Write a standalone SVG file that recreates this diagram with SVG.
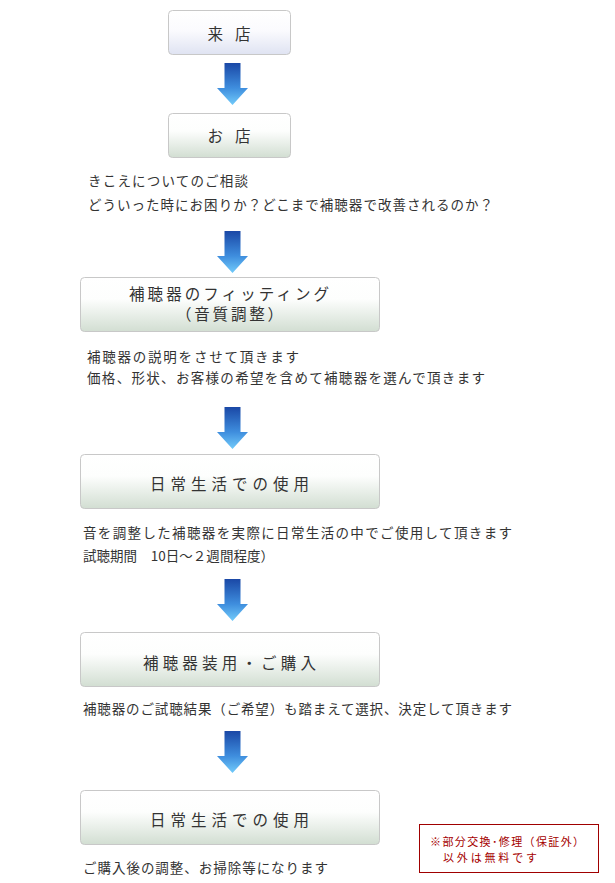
<svg xmlns="http://www.w3.org/2000/svg" xmlns:xlink="http://www.w3.org/1999/xlink" width="615" height="883" viewBox="0 0 615 883">
<style>
text{font-family:"Noto Sans CJK JP","Noto Sans CJK SC",sans-serif;fill:#333;dominant-baseline:central}
.t{font-size:15.5px;text-anchor:middle}
.b{font-size:13.5px}
.box{stroke:#c8c8c8;stroke-width:1}
.note{font-size:11px;fill:#a50000}
</style>
<defs>
<linearGradient id="gBlue" x1="0" y1="0" x2="0" y2="1">
<stop offset="0" stop-color="#ffffff"/>
<stop offset="0.45" stop-color="#fbfbfe"/>
<stop offset="1" stop-color="#dfe3f2"/>
</linearGradient>
<linearGradient id="gGreen" x1="0" y1="0" x2="0" y2="1">
<stop offset="0" stop-color="#ffffff"/>
<stop offset="0.4" stop-color="#fdfefd"/>
<stop offset="1" stop-color="#d2ded2"/>
</linearGradient>
<linearGradient id="gArrow" x1="0" y1="0" x2="0" y2="1">
<stop offset="0" stop-color="#1a48a6"/>
<stop offset="0.6" stop-color="#3f8ede"/>
<stop offset="1" stop-color="#72cbfa"/>
</linearGradient>
<path id="arrow" d="M224.5,0 H240.5 V25 H248 L232.5,42 L217,25 H224.5 Z" fill="url(#gArrow)"/>
</defs>
<rect width="615" height="883" fill="#ffffff"/>

<g id="connectors">
<use xlink:href="#arrow" href="#arrow" y="63"/>
<use xlink:href="#arrow" href="#arrow" y="231"/>
<use xlink:href="#arrow" href="#arrow" y="407"/>
<use xlink:href="#arrow" href="#arrow" y="579"/>
<use xlink:href="#arrow" href="#arrow" y="731"/>
</g>

<g id="node-raiten">
<rect class="box" x="168.5" y="10.5" width="122" height="44" rx="4" fill="url(#gBlue)"/>
<text class="t" x="229" y="33" textLength="43" lengthAdjust="spacing">来店</text>
</g>

<g id="node-omise">
<rect class="box" x="168.5" y="113.5" width="122" height="44" rx="4" fill="url(#gGreen)"/>
<text class="t" x="229" y="135" textLength="43" lengthAdjust="spacing">お店</text>
</g>

<g id="text-soudan">
<text class="b" x="88" y="180" textLength="160" lengthAdjust="spacing">きこえについてのご相談</text>
<text class="b" x="88" y="204" textLength="405" lengthAdjust="spacing">どういった時にお困りか？どこまで補聴器で改善されるのか？</text>
</g>

<g id="node-fitting">
<rect class="box" x="80.5" y="277.5" width="299" height="54" rx="4" fill="url(#gGreen)"/>
<text class="t" x="229" y="293" textLength="200" lengthAdjust="spacing">補聴器のフィッティング</text>
<text class="t" x="229.5" y="313" textLength="107" lengthAdjust="spacing">（音質調整）</text>
</g>

<g id="text-fitting">
<text class="b" x="87" y="356" textLength="212" lengthAdjust="spacing">補聴器の説明をさせて頂きます</text>
<text class="b" x="87" y="377" textLength="398" lengthAdjust="spacing">価格、形状、お客様の希望を含めて補聴器を選んで頂きます</text>
</g>

<g id="node-shiyou1">
<rect class="box" x="80.5" y="454.5" width="299" height="54" rx="4" fill="url(#gGreen)"/>
<text class="t" x="229.5" y="483" textLength="159" lengthAdjust="spacing">日常生活での使用</text>
</g>

<g id="text-shiyou1">
<text class="b" x="83" y="532" textLength="429" lengthAdjust="spacing">音を調整した補聴器を実際に日常生活の中でご使用して頂きます</text>
<text class="b" x="83" y="555" textLength="191" lengthAdjust="spacing">試聴期間　10日～２週間程度）</text>
</g>

<g id="node-kounyu">
<rect class="box" x="80.5" y="632.5" width="299" height="54" rx="4" fill="url(#gGreen)"/>
<text class="t" x="229.5" y="662" textLength="173" lengthAdjust="spacing">補聴器装用・ご購入</text>
</g>

<g id="text-kounyu">
<text class="b" x="83" y="708" textLength="429" lengthAdjust="spacing">補聴器のご試聴結果（ご希望）も踏まえて選択、決定して頂きます</text>
</g>

<g id="node-shiyou2">
<rect class="box" x="80.5" y="790.5" width="299" height="54" rx="4" fill="url(#gGreen)"/>
<text class="t" x="229.5" y="819" textLength="159" lengthAdjust="spacing">日常生活での使用</text>
</g>

<g id="text-shiyou2">
<text class="b" x="83" y="867" textLength="245" lengthAdjust="spacing">ご購入後の調整、お掃除等になります</text>
</g>

<g id="note">
<rect x="419.5" y="824.5" width="179" height="48" fill="#ffffff" stroke="#a00000" stroke-width="1"/>
<text class="note" x="430" y="841" textLength="154" lengthAdjust="spacing">※部分交換･修理（保証外）</text>
<text class="note" x="443" y="857" textLength="94" lengthAdjust="spacing">以外は無料です</text>
</g>
</svg>
